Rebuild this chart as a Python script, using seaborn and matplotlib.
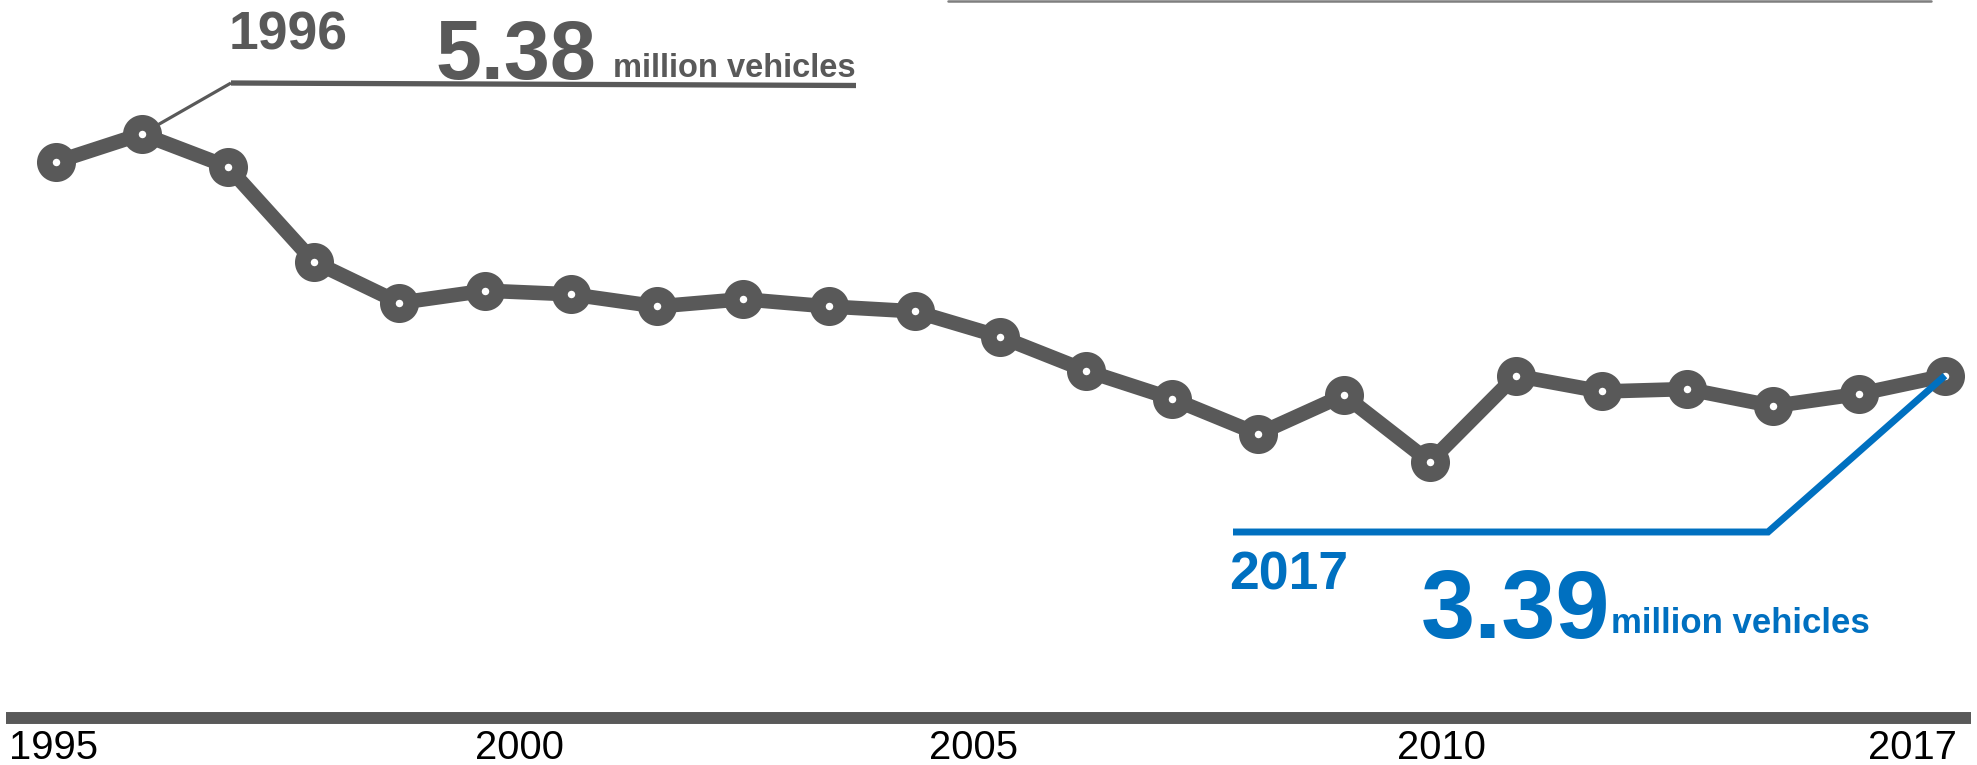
import matplotlib
matplotlib.use("Agg")
import matplotlib.pyplot as plt
from matplotlib.lines import Line2D
import seaborn as sns
import pandas as pd

# ---------------- data ----------------
years = list(range(1995, 2018))
vehicles = [5.15, 5.38, 5.11, 4.33, 3.99, 4.09, 4.06, 3.96, 4.02, 3.96, 3.92,
            3.71, 3.43, 3.20, 2.91, 3.23, 2.68, 3.39, 3.26, 3.28, 3.14, 3.24, 3.39]
tick_labels = ["1995", "2000", "2005", "2010", "2017"]
peak_year, peak_label, peak_value_text = 1996, "1996", "5.38"
last_year, last_label, last_value_text = 2017, "2017", "3.39"
unit_text = "million vehicles"

# ---------------- layout / style ----------------
W, H = 1977, 765
GRAY = "#595959"
BLUE = "#0070C0"
tick_positions = [1994.97, 2000.40, 2005.69, 2011.14, 2016.62]

sns.set_theme(style="white")
plt.rcParams['font.family'] = ['Liberation Sans', 'DejaVu Sans']

fig = plt.figure(figsize=(W / 100, H / 100), dpi=100)
fig.patch.set_facecolor("white")
ax_l, ax_r, ax_t, ax_b = 6, 1971, 0, 718
ax = fig.add_axes([ax_l / W, 1 - ax_b / H, (ax_r - ax_l) / W, (ax_b - ax_t) / H])
ax.set_facecolor("none")

df = pd.DataFrame({"year": years, "vehicles": vehicles})
sns.lineplot(data=df, x="year", y="vehicles", ax=ax, color=GRAY,
             linewidth=10.5, marker="o", markersize=16.75,
             markerfacecolor="white", markeredgecolor=GRAY,
             markeredgewidth=11.35, zorder=3)

ax.set_xlim(1994.4177, 2017.3028)
ax.set_ylim(0.572, 6.483)

for s in ["top", "right", "left"]:
    ax.spines[s].set_visible(False)
ax.spines["bottom"].set_color(GRAY)
ax.spines["bottom"].set_linewidth(8.6)
ax.spines["bottom"].set_capstyle("butt")
ax.set_yticks([])
ax.set_xticks(tick_positions, tick_labels)
ax.tick_params(axis="x", length=0, pad=8, labelsize=28.8, labelcolor="black")
ax.set_xlabel("")
ax.set_ylabel("")
ax.grid(False)


def px2data(x, y):
    inv = ax.transData.inverted()
    return inv.transform((x, H - y))


# peak (1996) leader
peak_val = vehicles[years.index(peak_year)]
c = px2data(231, 83)
e = px2data(856, 85.5)
ax.plot([peak_year, c[0]], [peak_val, c[1]], color=GRAY, lw=2.3, zorder=2,
        solid_capstyle="butt")
ax.plot([c[0], e[0]], [c[1], e[1]], color=GRAY, lw=3.8, zorder=2,
        solid_capstyle="butt")

# last (2017) leader
last_val = vehicles[years.index(last_year)]
c2 = px2data(1768, 532)
e2 = px2data(1233, 532)
ax.plot([last_year, c2[0], e2[0]], [last_val, c2[1], e2[1]], color=BLUE,
        lw=5, zorder=5, solid_capstyle="butt", solid_joinstyle="miter")


def ftext(x, y, s, **kw):
    fig.text(x / W, 1 - y / H, s, ha="left", va="baseline", **kw)


ftext(229, 50, peak_label, fontsize=38.5, fontweight="bold", color=GRAY)
ftext(436, 78.5, peak_value_text, fontsize=59.5, fontweight="bold", color=GRAY)
ftext(613, 77, unit_text, fontsize=23.5, fontweight="bold", color=GRAY)

ftext(1229, 590, last_label, fontsize=38.5, fontweight="bold", color=BLUE)
ftext(1421, 638, last_value_text, fontsize=70, fontweight="bold", color=BLUE)
ftext(1611, 633, unit_text, fontsize=25, fontweight="bold", color=BLUE)

# thin rule at the top
fig.add_artist(Line2D([948 / W, 1931 / W], [1 - 1 / H, 1 - 1 / H],
                      color="#7f7f7f", lw=1.8))

fig.savefig("out.png", dpi=100, facecolor="white")
